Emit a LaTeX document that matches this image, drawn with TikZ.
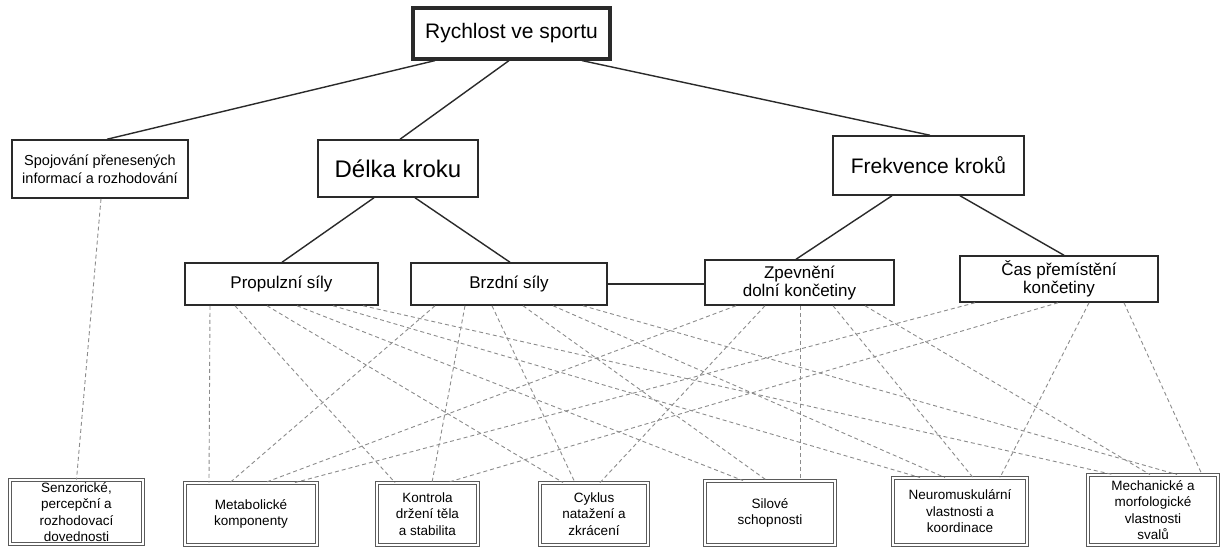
\documentclass[tikz,border=0pt]{standalone}
\usepackage{fontspec}
\setmainfont{Liberation Sans}
\definecolor{boxline}{HTML}{2A2A2A}
\definecolor{dashline}{HTML}{8C8C8C}
\definecolor{dblline}{HTML}{5A5A5A}

\begin{document}
\begin{tikzpicture}[x=1pt, y=-1pt,
    topbox/.style={draw=boxline, line width=3.2pt, fill=white, inner sep=0pt, align=center,
      font=\fontsize{21}{25}\selectfont},
    mainbox/.style={draw=boxline, line width=1.5pt, fill=white, inner sep=0pt, align=center,
      font=\fontsize{21}{25}\selectfont},
    infobox/.style={draw=boxline, line width=1.5pt, fill=white, inner sep=0pt, align=center,
      font=\fontsize{14.5}{18}\selectfont},
    midbox/.style={draw=boxline, line width=1.5pt, fill=white, inner sep=0pt, align=center,
      font=\fontsize{17}{18}\selectfont},
    basebox/.style={draw=dblline, line width=0.9pt, double=white, double distance=2.2pt,
      fill=white, inner sep=0pt, align=center, font=\fontsize{13.5}{16.5}\selectfont},
    tie/.style={draw=boxline, line width=1.4pt},
    link/.style={draw=dashline, line width=0.9pt, dash pattern=on 4pt off 3pt},
  ]
  \useasboundingbox (0,0) rectangle (1224,547);
  \fill[white] (0,0) rectangle (1224,547);

  % ---- top and first level
  \node[topbox, minimum width=197pt, minimum height=51pt] (rych) at (511.5,33.5) {Rychlost ve sportu};
  \node[infobox, minimum width=176pt, minimum height=58pt] (spoj) at (100,169)
    {Spojování přenesených\\informací a rozhodování};
  \node[mainbox, minimum width=160pt, minimum height=57pt, font=\fontsize{24}{28}\selectfont]
    (delka) at (398,168.5) {Délka kroku};
  \node[mainbox, minimum width=191pt, minimum height=59pt] (frek) at (928.5,165.5) {Frekvence kroků};

  % ---- second level
  \node[midbox, minimum width=193pt, minimum height=42pt] (prop) at (281.5,284) {Propulzní síly};
  \node[midbox, minimum width=196pt, minimum height=42pt] (brzd) at (509,284) {Brzdní síly};
  \node[midbox, minimum width=189pt, minimum height=45pt] (zpev) at (799.5,282.5)
    {Zpevnění\\dolní končetiny};
  \node[midbox, minimum width=198pt, minimum height=46pt] (cas) at (1059,279)
    {Čas přemístění\\končetiny};

  % ---- bottom row
  \node[basebox, minimum width=133pt, minimum height=64pt] (senz) at (76.5,512)
    {Senzorické,\\percepční a\\rozhodovací\\dovednosti};
  \node[basebox, minimum width=132pt, minimum height=62pt] (meta) at (251,514)
    {Metabolické\\komponenty};
  \node[basebox, minimum width=101pt, minimum height=62pt] (kont) at (427.5,514)
    {Kontrola\\držení těla\\a stabilita};
  \node[basebox, minimum width=108pt, minimum height=62pt] (cykl) at (594,514)
    {Cyklus\\natažení a\\zkrácení};
  \node[basebox, minimum width=130pt, minimum height=64pt] (silo) at (770,513)
    {Silové\\schopnosti};
  \node[basebox, minimum width=134pt, minimum height=67pt] (neur) at (960,511.5)
    {Neuromuskulární\\vlastnosti a\\koordinace};
  \node[basebox, minimum width=130pt, minimum height=70pt] (mech) at (1153,510)
    {Mechanické a\\morfologické\\vlastnosti\\svalů};

  % ---- solid tree
  \draw[tie] ([xshift=-76.5pt]rych.south) -- ([xshift=7pt]spoj.north);
  \draw[tie] ([xshift=-2.5pt]rych.south) -- ([xshift=2pt]delka.north);
  \draw[tie] ([xshift=70.5pt]rych.south) -- ([xshift=1.5pt]frek.north);
  \draw[tie] ([xshift=-24pt]delka.south) -- ([xshift=0.5pt]prop.north);
  \draw[tie] ([xshift=17pt]delka.south) -- ([xshift=1pt]brzd.north);
  \draw[tie] ([xshift=-36.5pt]frek.south) -- ([xshift=-3.5pt]zpev.north);
  \draw[tie] ([xshift=31.5pt]frek.south) -- ([xshift=5pt]cas.north);
  \draw[tie] (brzd.east) -- (brzd.east -| zpev.west);

  % ---- dashed links
  \draw[link] ([xshift=1pt]spoj.south) -- (senz.north);
  % propulzni sily
  \draw[link] ([xshift=-71.5pt]prop.south) -- ([xshift=-42pt]meta.north);
  \draw[link] ([xshift=-46.5pt]prop.south) -- ([xshift=-32.5pt]kont.north);
  \draw[link] ([xshift=-14.5pt]prop.south) -- ([xshift=-31pt]cykl.north);
  \draw[link] ([xshift=15.5pt]prop.south) -- ([xshift=-27pt]silo.north);
  \draw[link] ([xshift=51.5pt]prop.south) -- ([xshift=-40pt]neur.north);
  \draw[link] ([xshift=81.5pt]prop.south) -- ([xshift=-40pt]mech.north);
  % brzdni sily
  \draw[link] ([xshift=-74pt]brzd.south) -- ([xshift=-21pt]meta.north);
  \draw[link] ([xshift=-44pt]brzd.south) -- ([xshift=4.5pt]kont.north);
  \draw[link] ([xshift=-17pt]brzd.south) -- ([xshift=-19pt]cykl.north);
  \draw[link] ([xshift=14pt]brzd.south) -- ([xshift=-3pt]silo.north);
  \draw[link] ([xshift=44pt]brzd.south) -- ([xshift=-15pt]neur.north);
  \draw[link] ([xshift=74pt]brzd.south) -- ([xshift=24pt]mech.north);
  % zpevneni
  \draw[link] ([xshift=-63.5pt]zpev.south) -- ([xshift=14pt]meta.north);
  \draw[link] ([xshift=-34.5pt]zpev.south) -- ([xshift=6pt]cykl.north);
  \draw[link] ([xshift=0.5pt]zpev.south) -- ([xshift=30pt]silo.north);
  \draw[link] ([xshift=33.5pt]zpev.south) -- ([xshift=13pt]neur.north);
  \draw[link] ([xshift=65.5pt]zpev.south) -- ([xshift=-3pt]mech.north);
  % cas premisteni
  \draw[link] ([xshift=-84pt]cas.south) -- ([xshift=44pt]meta.north);
  \draw[link] ([xshift=-1pt]cas.south) -- ([xshift=19.5pt]kont.north);
  \draw[link] ([xshift=30pt]cas.south) -- ([xshift=40pt]neur.north);
  \draw[link] ([xshift=65pt]cas.south) -- ([xshift=49pt]mech.north);
\end{tikzpicture}
\end{document}
